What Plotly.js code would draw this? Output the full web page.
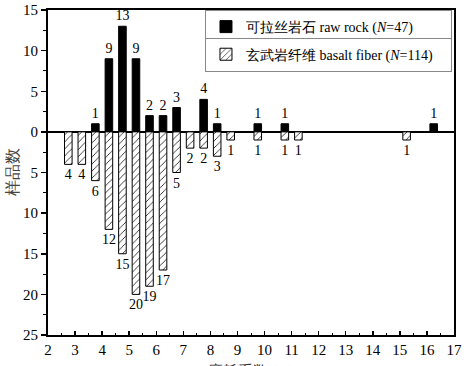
<!DOCTYPE html>
<html>
<head>
<meta charset="utf-8">
<script src="https://cdn.plot.ly/plotly-3.0.1.min.js"></script>
<style>html,body{margin:0;padding:0;background:#fff}</style>
</head>
<body>
<div id="chart" style="width:472px;height:366px"></div>
<script>
// Raw rock (bars upward)
const rockX = [3.75, 4.25, 4.75, 5.25, 5.75, 6.25, 6.75, 7.75, 8.25, 9.75, 10.75, 16.25];
const rockN = [1, 9, 13, 9, 2, 2, 3, 4, 1, 1, 1, 1];
// Basalt fiber (bars downward)
const fiberX = [2.75, 3.25, 3.75, 4.25, 4.75, 5.25, 5.75, 6.25, 6.75, 7.25, 7.75, 8.25, 8.75, 9.75, 10.75, 11.25, 15.25];
const fiberN = [4, 4, 6, 12, 15, 20, 19, 17, 5, 2, 2, 3, 1, 1, 1, 1, 1];
const yTickVals = [-25, -20, -15, -10, -5, 0, 5, 10, 15];
const yTickText = ['25', '20', '15', '10', '5', '0', '5', '10', '15'];
const rockName = '可拉丝岩石 raw rock (<i>N</i>=47)';
const fiberName = '玄武岩纤维 basalt fiber (<i>N</i>=114)';
const yTitle = '样品数';
const xTitle = '磨耗系数 (%)';

const FONT = 'Liberation Serif';
const labelFont = {family: FONT, size: 14, color: '#000'};

const traces = [
  {
    type: 'bar', x: rockX, y: rockN, width: 0.28, name: rockName,
    marker: {color: '#000', line: {color: '#000', width: 1}},
    text: rockN.map(String), textposition: 'outside', cliponaxis: false,
    constraintext: 'none', textangle: 0,
    textfont: labelFont, outsidetextfont: labelFont,
    legend: 'legend'
  },
  {
    type: 'bar', x: fiberX, y: fiberN.map(v => -v), width: 0.28, name: fiberName,
    marker: {color: '#fff', line: {color: '#000', width: 1},
      pattern: {shape: '/', fgcolor: '#000', bgcolor: '#fff', size: 5, solidity: 0.15}},
    text: fiberN.map(String), textposition: 'outside', cliponaxis: false,
    constraintext: 'none', textangle: 0,
    textfont: labelFont, outsidetextfont: labelFont,
    legend: 'legend2'
  }
];

const legendCommon = {
  x: 0.995, xanchor: 'right', yanchor: 'top',
  bgcolor: '#fff', bordercolor: '#888', borderwidth: 1,
  font: {family: FONT, size: 14, color: '#000'},
  itemwidth: 30, tracegroupgap: 0,
  orientation: 'h', entrywidth: 200, entrywidthmode: 'pixels'
};

const layout = {
  width: 472, height: 366,
  margin: {l: 48, r: 18, t: 10, b: 31},
  paper_bgcolor: '#fff', plot_bgcolor: '#fff',
  font: {family: FONT, size: 14, color: '#000'},
  barmode: 'relative',
  showlegend: true,
  legend: Object.assign({}, legendCommon, {y: 1.0}),
  legend2: Object.assign({}, legendCommon, {y: 0.915}),
  xaxis: {
    range: [2, 17], tickmode: 'linear', tick0: 2, dtick: 1,
    ticks: 'inside', ticklen: 4, tickwidth: 1.5, tickcolor: '#000',
    minor: {dtick: 0.5, ticks: 'inside', ticklen: 2, tickwidth: 1, tickcolor: '#000'},
    showline: true, linecolor: '#000', linewidth: 2, mirror: true,
    showgrid: false, zeroline: false,
    tickfont: {family: FONT, size: 15, color: '#000'}
  },
  yaxis: {
    range: [-25, 15], tickmode: 'array', tickvals: yTickVals, ticktext: yTickText,
    ticks: 'outside', ticklen: 5, tickwidth: 1.5, tickcolor: '#000',
    minor: {dtick: 2.5, tick0: 0, ticks: 'outside', ticklen: 3, tickwidth: 1, tickcolor: '#000'},
    showline: true, linecolor: '#000', linewidth: 2, mirror: true,
    showgrid: false, zeroline: true, zerolinecolor: '#000', zerolinewidth: 1.5,
    tickfont: {family: FONT, size: 15, color: '#000'},
    title: {text: yTitle, font: {family: FONT, size: 16, color: '#444'}, standoff: 0}
  },
  annotations: [{
    text: xTitle, xref: 'paper', yref: 'paper', x: 0.5, y: -0.08,
    xanchor: 'center', yanchor: 'top', showarrow: false,
    font: {family: FONT, size: 15, color: '#333'}
  }]
};

Plotly.newPlot('chart', traces, layout, {displayModeBar: false, staticPlot: true});
</script>
</body>
</html>
